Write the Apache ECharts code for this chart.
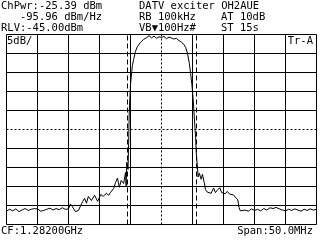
<!DOCTYPE html>
<html>
<head>
<meta charset="utf-8">
<script src="https://cdn.jsdelivr.net/npm/echarts@6/dist/echarts.min.js"></script>
<style>html,body{margin:0;padding:0;background:#fff;}#c{width:320px;height:240px;}</style>
</head>
<body>
<div id="c"></div>
<script>
// Frequency offset from centre (MHz)
var freq = [
-25,-24.5,-24,-23.5,-23,-22.5,-22,-21.5,-21,-20.5,
-20,-19.5,-19,-18.5,-18,-17.5,-17,-16.5,-16,-15.5,
-15,-14.7,-14.4,-13.9,-13.4,-13.1,-12.7,-12.4,-12.1,-11.8,
-11.3,-10.8,-10.3,-9.8,-9.4,-8.9,-8.5,-8.2,-7.7,-7.4,
-7.1,-6.8,-6.5,-6.1,-5.8,-5.7,-5.6,-5.4,-5.3,-5.2,
-5.0,-4.8,-4.7,-4.5,-4.2,-3.9,-3.4,-2.9,-2.4,-2.0,
-1.6,-1.2,-0.8,-0.4,0,0.4,0.8,1.2,1.6,2.0,
2.4,2.8,3.2,3.6,3.9,4.2,4.5,4.7,4.9,5.1,
5.3,5.5,5.6,5.8,5.9,6.1,6.4,6.6,6.9,7.1,
7.4,7.7,8.0,8.4,8.7,9.0,9.4,9.7,10.0,10.3,
10.6,11.0,11.3,11.6,11.9,12.3,12.5,12.7,13.0,
13.5,14,14.5,15,15.5,16,16.5,17,17.5,18,
18.5,19,19.5,20,20.5,21,21.5,22,22.5,23,
23.5,24,24.5,25
];
// Trace level (dBm)
var level = [
-91.5,-91.0,-91.4,-90.9,-91.6,-91.2,-90.8,-91.3,-91.0,-90.8,
-90.9,-91.5,-91.3,-91.0,-90.7,-91.2,-90.8,-91.1,-90.6,-91.0,
-90.9,-89.6,-90.2,-91.6,-91.3,-90.8,-88.9,-88.1,-89.4,-87.6,
-88.7,-87.3,-88.9,-87.1,-87.6,-86.8,-87.3,-86.5,-85.5,-83.9,
-82.8,-85.2,-83.4,-84.2,-81.3,-85.0,-78.6,-80.5,-73.6,-65.4,
-58.2,-54.8,-53.2,-51.6,-49.5,-48.2,-47.1,-46.3,-45.8,-45.3,
-45.9,-45.4,-46.0,-45.6,-45.8,-45.5,-46.1,-45.7,-45.9,-46.2,
-46.0,-46.6,-47.0,-47.6,-48.4,-50.0,-52.7,-55.3,-58.2,-61.9,
-67.0,-72.0,-76.0,-80.0,-82.5,-81.5,-83.1,-81.8,-84.0,-85.8,
-86.5,-86.0,-86.8,-85.4,-86.6,-86.0,-85.3,-86.6,-86.2,-86.9,
-86.3,-87.0,-86.5,-87.2,-87.5,-88.5,-90.5,-91.4,-91.0,
-91.2,-91.5,-90.9,-91.3,-91.0,-91.4,-90.8,-91.2,-90.6,-90.8,
-90.5,-90.9,-91.2,-91.4,-91.0,-91.3,-90.9,-91.2,-91.5,-91.0,
-91.3,-90.9,-91.2,-91.0
];
var xTicks = [-25,-20,-15,-10,-5,0,5,10,15,20,25];
var yTicks = [-95,-90,-85,-80,-75,-70,-65,-60,-55,-50,-45];
var channelEdges = [-5.6, 5.6];
var xCenter = 0, yCenter = -70;

var headerLeft = ['ChPwr:-25.39 dBm', '   -95.96 dBm/Hz', 'RLV:-45.00dBm'];
var headerRight = ['DATV exciter OH2AUE', 'RB 100kHz', 'VB\u25BC100Hz#'];
var headerRight2 = ['', 'AT 10dB', 'ST 15s'];
var scaleLabel = '5dB/';
var traceLabel = 'Tr-A';
var cfLabel = 'CF:1.28200GHz';
var spanLabel = 'Span:50.0MHz';

var pts = freq.map(function (f, i) { return [f, level[i]]; });

var gridMarks = [];
xTicks.forEach(function (v) {
  gridMarks.push({ xAxis: v, lineStyle: { type: v === xCenter ? [2, 2] : 'solid' } });
});
yTicks.forEach(function (v) {
  gridMarks.push({ yAxis: v, lineStyle: { type: v === yCenter ? [2, 2] : 'solid' } });
});
channelEdges.forEach(function (v) {
  gridMarks.push({ xAxis: v, lineStyle: { type: [5, 3] } });
});

var FONT = '10.5px "DejaVu Sans Mono"';
function txt(s, x, y, align) {
  return { type: 'text', x: x, y: y, silent: true,
    style: { text: s, font: FONT, fill: '#000', align: align || 'left', verticalAlign: 'middle' } };
}
var rowsY = [6.5, 17.5, 28.5];
var graphics = [];
headerLeft.forEach(function (s, i) { graphics.push(txt(s, 1, rowsY[i])); });
headerRight.forEach(function (s, i) { graphics.push(txt(s, 139, rowsY[i])); });
headerRight2.forEach(function (s, i) { if (s) graphics.push(txt(s, 221, rowsY[i])); });
graphics.push(txt(scaleLabel, 7, 41.5));
graphics.push(txt(traceLabel, 313, 41.5, 'right'));
graphics.push(txt(cfLabel, 1, 231));
graphics.push(txt(spanLabel, 313, 231, 'right'));

var chart = echarts.init(document.getElementById('c'), null, { renderer: 'canvas' });
chart.setOption({
  animation: false,
  backgroundColor: '#fff',
  grid: { left: 6.5, right: 3.5, top: 34.5, bottom: 15.5, containLabel: false },
  xAxis: { type: 'value', min: -25, max: 25, interval: 5,
    axisLine: { show: false }, axisTick: { show: false }, axisLabel: { show: false }, splitLine: { show: false } },
  yAxis: { type: 'value', min: -95, max: -45, interval: 5,
    axisLine: { show: false }, axisTick: { show: false }, axisLabel: { show: false }, splitLine: { show: false } },
  series: [
    { type: 'line', data: [], silent: true,
      markLine: { silent: true, symbol: ['none', 'none'], label: { show: false }, animation: false,
        lineStyle: { color: '#000', width: 1, opacity: 1 }, emphasis: { disabled: true },
        data: gridMarks } },
    { type: 'line', data: pts, showSymbol: false, symbol: 'none', smooth: false, silent: true,
      lineStyle: { color: '#000', width: 1 }, z: 5 }
  ],
  graphic: graphics
});
</script>
</body>
</html>
